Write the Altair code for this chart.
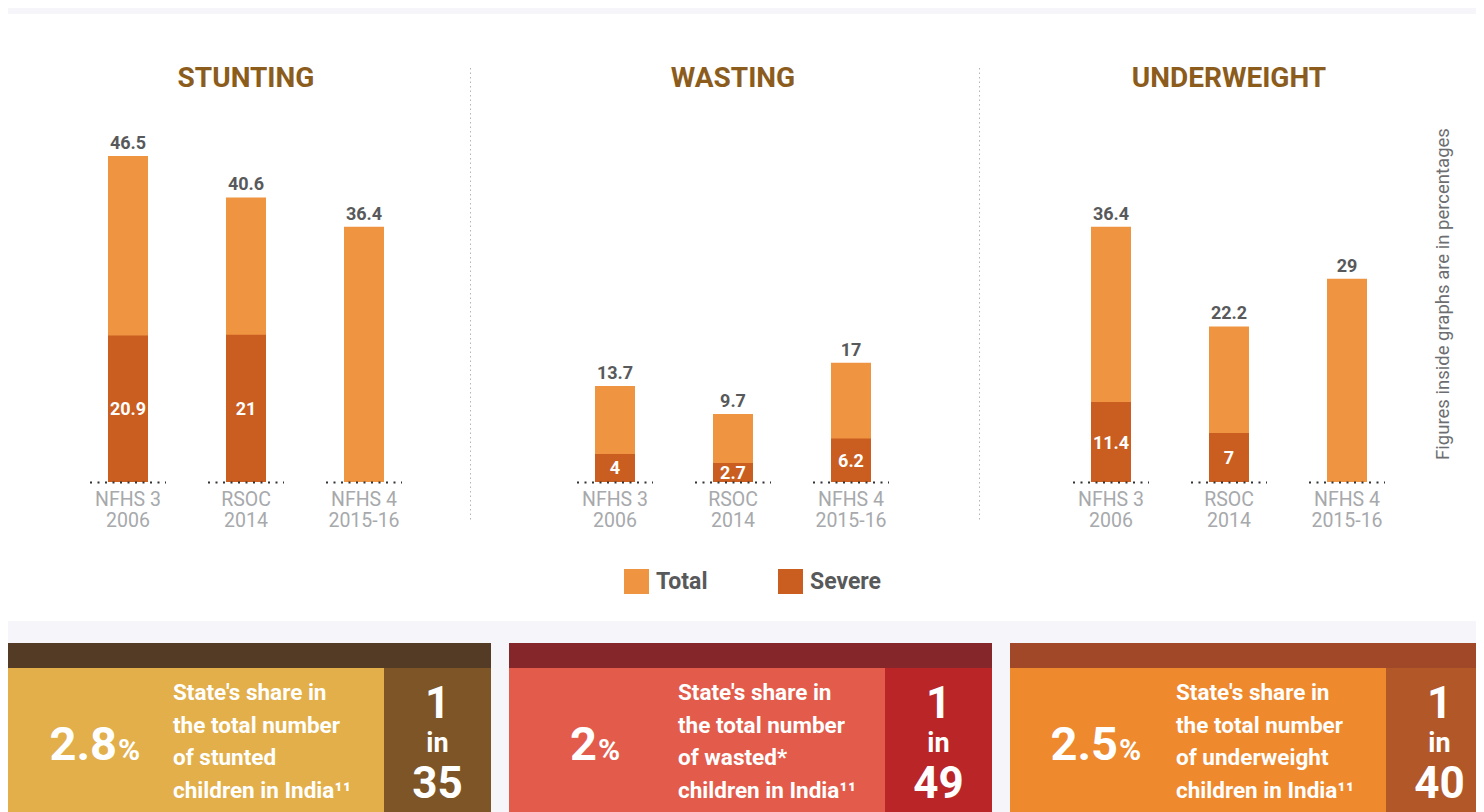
import altair as alt
import pandas as pd

# ---------------- data ----------------
panel_titles = ["STUNTING", "WASTING", "UNDERWEIGHT"]
survey_names = ["NFHS 3", "RSOC", "NFHS 4"]
survey_years = ["2006", "2014", "2015-16"]

stunting_total = [46.5, 40.6, 36.4]
stunting_severe = [20.9, 21, None]
wasting_total = [13.7, 9.7, 17]
wasting_severe = [4, 2.7, 6.2]
underweight_total = [36.4, 22.2, 29]
underweight_severe = [11.4, 7, None]

kinds = ["Total", "Severe"]
note_text = "Figures inside graphs are in percentages"

share_pct = ["2.8", "2", "2.5"]
share_nouns = ["stunted", "wasted*", "underweight"]
one_in = ["35", "49", "40"]

# ---------------- styles / layout ----------------
FONT = "Roboto, sans-serif"
BG = "#f5f5fa"
C_TOTAL = "#ef9440"
C_SEVERE = "#c95e20"
TITLE_C = "#8b5c1c"
LABEL_C = "#58595b"
CAT_C = "#a7a9ac"

ROW_H = 613
BASE_Y = 474
panel_widths = [462, 509, 497]
panel_ranges = [[61, 415], [86, 440], [73, 427]]
box_styles = [
    dict(strip="#543b26", main="#e2af4a", sub="#7d5527", split=109, tx=165, w=483),
    dict(strip="#85262a", main="#e25b4b", sub="#ba2528", split=88, tx=169, w=483),
    dict(strip="#a04828", main="#ee892e", sub="#b25828", split=108, tx=166, w=466),
]
BOX_H = 169
SUB_X = 376

survey_keys = [f"{n} {y}" for n, y in zip(survey_names, survey_years)]
one = pd.DataFrame({"a": [0]})

color_scale = alt.Scale(domain=kinds, range=[C_TOTAL, C_SEVERE])


def fmt(v):
    return f"{v:g}"


def panel(idx, totals, severes):
    W = panel_widths[idx]
    tdf = pd.DataFrame({
        "survey": survey_keys, "name": survey_names, "year": survey_years,
        "kind": "Total", "value": totals, "label": [fmt(v) for v in totals],
    })
    srows = [(k, v) for k, v in zip(survey_keys, severes) if v is not None]
    sdf = pd.DataFrame({
        "survey": [k for k, _ in srows], "kind": "Severe",
        "value": [v for _, v in srows], "label": [fmt(v) for _, v in srows],
    })
    sdf["half"] = sdf["value"] / 2

    xs = alt.Scale(domain=survey_keys, range=panel_ranges[idx],
                   paddingInner=0.661, paddingOuter=0.3305)
    X = alt.X("survey:N", sort=survey_keys, scale=xs, axis=None)
    ys = alt.Scale(domain=[0, 60], range=[BASE_Y, BASE_Y - 60 * 7.01])
    col = alt.Color("kind:N", scale=color_scale,
                    legend=alt.Legend(title=None))

    white = alt.Chart(one).mark_rect(color="white").encode(
        x=alt.value(0), x2=alt.value(W), y=alt.value(6), y2=alt.value(ROW_H))
    title = alt.Chart(pd.DataFrame({"t": [panel_titles[idx]]})).mark_text(
        font=FONT, fontSize=28, fontWeight="bold", color=TITLE_C,
        baseline="alphabetic", align="center").encode(
        x=alt.value(sum(panel_ranges[idx]) / 2), y=alt.value(79), text="t:N")
    tot = alt.Chart(tdf).mark_bar().encode(
        x=X, y=alt.Y("value:Q", scale=ys, axis=None, stack=None), color=col)
    sev = alt.Chart(sdf).mark_bar().encode(
        x=X, y=alt.Y("value:Q", scale=ys, axis=None, stack=None), color=col)
    tlab = alt.Chart(tdf).mark_text(
        font=FONT, fontSize=18, fontWeight="bold", color=LABEL_C,
        baseline="alphabetic", dy=-7).encode(
        x=X, y=alt.Y("value:Q", scale=ys, axis=None), text="label:N")
    slab = alt.Chart(sdf).mark_text(
        font=FONT, fontSize=18, fontWeight="bold", color="white",
        baseline="alphabetic", dy=6.5).encode(
        x=X, y=alt.Y("half:Q", scale=ys, axis=None), text="label:N")
    base = alt.Chart(tdf).mark_rule(
        color="#333333", strokeWidth=2, strokeDash=[2, 5.5],
        xOffset=-38, x2Offset=38).encode(
        x=X, x2=alt.X2("survey"), y=alt.value(BASE_Y + 0.5))
    cat1 = alt.Chart(tdf).mark_text(
        font=FONT, fontSize=19.5, color=CAT_C, baseline="alphabetic").encode(
        x=X, y=alt.value(498), text="name:N")
    cat2 = alt.Chart(tdf).mark_text(
        font=FONT, fontSize=19.5, color=CAT_C, baseline="alphabetic").encode(
        x=X, y=alt.value(519), text="year:N")

    layers = [white, title, tot, sev, tlab, slab, base, cat1, cat2]
    if idx > 0:
        sep = alt.Chart(one).mark_rule(
            color="#b5b5b5", strokeWidth=1, strokeDash=[1.5, 3]).encode(
            x=alt.value(0.5), y=alt.value(60), y2=alt.value(514))
        layers.append(sep)
    if idx == 2:
        note = alt.Chart(pd.DataFrame({"t": [note_text]})).mark_text(
            font=FONT, fontSize=18.5, color="#6d6e71", angle=270,
            align="center", baseline="middle").encode(
            x=alt.value(464), y=alt.value(286), text="t:N")
        layers.append(note)
    return alt.layer(*layers).properties(width=W, height=ROW_H)


def box(idx):
    st = box_styles[idx]
    W = st["w"]
    d = pd.DataFrame({
        "pct": [share_pct[idx]], "sign": ["%"],
        "lines": [f"State's share in\nthe total number\nof {share_nouns[idx]}\nchildren in India\u00b9\u00b9"],
        "one": ["1"], "in": ["in"], "n": [one_in[idx]],
    })
    c = alt.Chart(d)
    main = c.mark_rect(color=st["main"]).encode(
        x=alt.value(0), x2=alt.value(W), y=alt.value(0), y2=alt.value(BOX_H))
    strip = c.mark_rect(color=st["strip"]).encode(
        x=alt.value(0), x2=alt.value(W), y=alt.value(0), y2=alt.value(25))
    sub = c.mark_rect(color=st["sub"]).encode(
        x=alt.value(SUB_X), x2=alt.value(W), y=alt.value(25), y2=alt.value(BOX_H))
    txt = dict(font=FONT, fontWeight="bold", color="white", baseline="alphabetic")
    pct = c.mark_text(fontSize=47, align="right", **txt).encode(
        x=alt.value(st["split"]), y=alt.value(117), text="pct:N")
    sign = c.mark_text(fontSize=30, align="left", **txt).encode(
        x=alt.value(st["split"] + 1), y=alt.value(117), text="sign:N")
    lines = c.mark_text(fontSize=22.5, align="left", lineBreak="\n",
                        lineHeight=32.7, **txt).encode(
        x=alt.value(st["tx"]), y=alt.value(57), text="lines:N")
    cx = SUB_X + 53.5
    o1 = c.mark_text(fontSize=44, align="center", **txt).encode(
        x=alt.value(cx), y=alt.value(75), text="one:N")
    o2 = c.mark_text(fontSize=27, align="center", **txt).encode(
        x=alt.value(cx), y=alt.value(109), text="in:N")
    o3 = c.mark_text(fontSize=44, align="center", **txt).encode(
        x=alt.value(cx), y=alt.value(155), text="n:N")
    return alt.layer(main, strip, sub, pct, sign, lines, o1, o2, o3).properties(
        width=W, height=BOX_H)


top = alt.hconcat(
    panel(0, stunting_total, stunting_severe),
    panel(1, wasting_total, wasting_severe),
    panel(2, underweight_total, underweight_severe),
    spacing=0,
)
bottom = alt.hconcat(box(0), box(1), box(2), spacing=18)

chart = alt.vconcat(top, bottom, spacing=22).resolve_scale(
    color="shared").resolve_legend(color="shared").properties(
    padding=0, background=BG
).configure_view(stroke=None).configure_legend(
    orient="none", legendX=616, legendY=561, direction="horizontal",
    symbolType="square", symbolSize=625, symbolStrokeWidth=0,
    symbolOpacity=1, labelFont=FONT, labelFontSize=23,
    labelFontWeight="bold", labelColor=LABEL_C, labelOffset=7,
    columnPadding=70, padding=0,
)

chart.save("out.html", embed_options={"renderer": "svg", "actions": False})
